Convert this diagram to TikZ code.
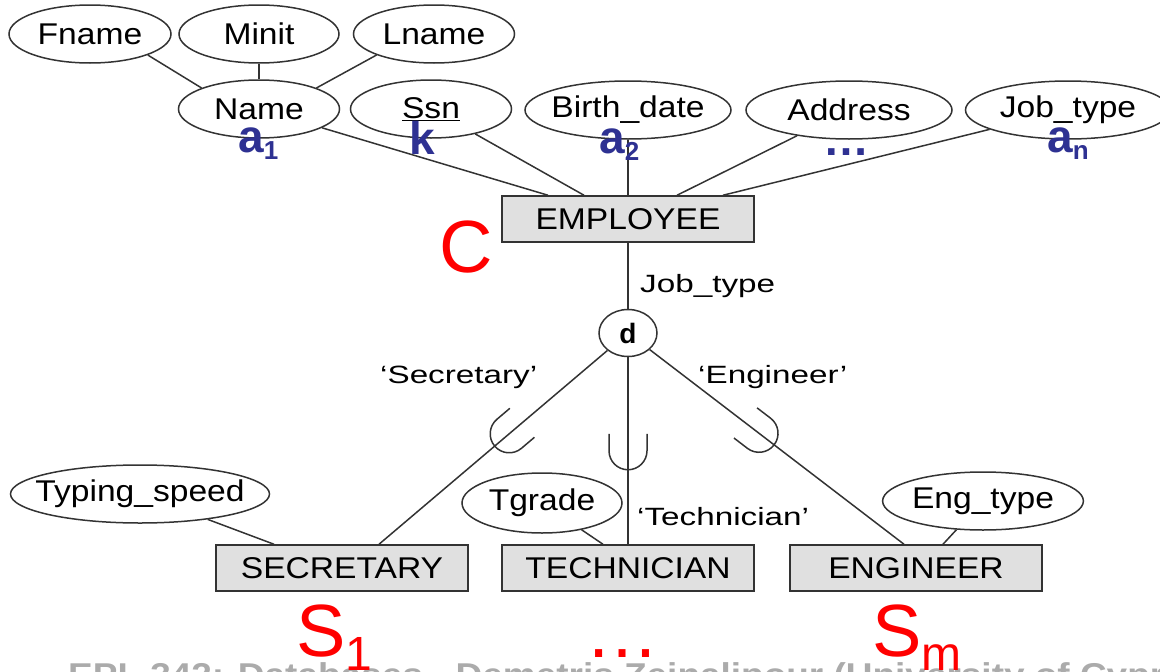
\documentclass[tikz,border=0pt]{standalone}
\usepackage{fontspec}
\setmainfont{Liberation Sans}
\newfontfamily\erfont{Liberation Sans}[FakeStretch=1.12]
\newfontfamily\rolefont{Liberation Sans}[FakeStretch=1.33]
\usetikzlibrary{shapes.geometric,positioning}
\definecolor{ergray}{HTML}{333333}
\definecolor{entfill}{HTML}{E0E0E0}
\definecolor{symblue}{HTML}{2E3192}
\definecolor{footgray}{HTML}{ABABAB}
\newcommand{\attrsub}[2]{#1\raisebox{-7pt}{\fontsize{26}{26}\selectfont #2}}
\newcommand{\setsub}[2]{#1\raisebox{-14pt}{\fontsize{48}{48}\selectfont #2}}
\tikzset{
  er line/.style={draw=ergray, line width=1.5pt},
  attrib/.style={ellipse, er line, inner sep=0pt, minimum height=58pt, font=\erfont\fontsize{30}{30}\selectfont},
  ent/.style={rectangle, er line, fill=entfill, minimum width=252pt, minimum height=46pt, inner sep=0pt, font=\erfont\fontsize{30}{30}\selectfont},
  role/.style={inner sep=0pt, anchor=base west, font=\rolefont\fontsize{25}{25}\selectfont},
  symlbl/.style={inner sep=0pt, anchor=base west, text=symblue, font=\bfseries\fontsize{46}{46}\selectfont},
  setlbl/.style={inner sep=0pt, anchor=base west, text=red, font=\fontsize{74}{74}\selectfont},
  subsetu/.pic={\draw[er line] (-17,-19) -- (0,-19) arc[start angle=-90, end angle=90, radius=19] -- (-17,19);}
}
\begin{document}
\begin{tikzpicture}[x=1pt,y=-1pt]
\useasboundingbox (0,0) rectangle (1160,672);
\clip (0,0) rectangle (1160,672);
\node[inner sep=0pt, anchor=base west, text=footgray, font=\erfont\bfseries\fontsize{33}{33}\selectfont] (footer) at (68,686) {EPL 342: Databases - Demetris Zeinalipour (University of Cyprus)};
% superclass and its attributes
\node[attrib, minimum width=162pt] (fname) at (90,34) {Fname};
\node[attrib, minimum width=160pt] (minit) at (259,34) {Minit};
\node[attrib, minimum width=161pt] (lname) at (434,34) {Lname};
\node[attrib, minimum width=161pt] (name) at (259,109) {Name};
\node[attrib, minimum width=161pt] (ssn) at (431,109) {\underline{Ssn}};
\node[attrib, minimum width=206pt, inner xsep=-25pt] (bdate) at (628,110) {Birth\_date};
\node[attrib, minimum width=206pt] (address) at (849,110) {Address};
\node[attrib, minimum width=205pt] (jobtype) at (1068,110) {Job\_type};
\node[ent] (emp) at (628,219) {EMPLOYEE};
\draw[er line] (fname.south east) -- (name.north west);
\draw[er line] (minit) -- (name);
\draw[er line] (lname.south west) -- (name.north east);
\draw[er line] (name) -- ([xshift=-80pt]emp.north);
\draw[er line] (ssn) -- ([xshift=-44pt]emp.north);
\draw[er line] (bdate) -- (emp);
\draw[er line] (address) -- ([xshift=49pt]emp.north);
\draw[er line] (jobtype) -- ([xshift=95pt]emp.north);
% specialization
\node[ellipse, er line, minimum width=58pt, minimum height=47pt, inner sep=0pt, font=\bfseries\fontsize{28}{28}\selectfont] (disj) at (628,333) {d};
\draw[er line] (emp) -- (disj);
\node[role] (jtrole) at (640,292) {Job\_type};
\node[ent] (sec) at (342,568) {SECRETARY};
\node[ent] (tech) at (628,568) {TECHNICIAN};
\node[ent] (eng) at (916,568) {ENGINEER};
\draw[er line] (disj) -- pic[pos=0.43, sloped, allow upside down]{subsetu} ([xshift=37pt]sec.north);
\draw[er line] (disj) -- pic[pos=0.5, sloped, allow upside down]{subsetu} (tech);
\draw[er line] (disj) -- pic[pos=0.43, sloped, allow upside down]{subsetu} ([xshift=-12pt]eng.north);
\node[role] (secrole) at (380,383) {‘Secretary’};
\node[role] (engrole) at (698,383) {‘Engineer’};
\node[role] (techrole) at (637,525) {‘Technician’};
% local attributes
\node[attrib, minimum width=259pt, inner xsep=-25pt] (tspeed) at (140,494) {Typing\_speed};
\node[attrib, minimum width=160pt, minimum height=60pt] (tgrade) at (542,503) {Tgrade};
\node[attrib, minimum width=200pt] (engtype) at (983,501) {Eng\_type};
\draw[er line] (tspeed) -- ([xshift=-68pt]sec.north);
\draw[er line] (tgrade) -- ([xshift=-25pt]tech.north);
\draw[er line] (engtype) -- ([xshift=27pt]eng.north);
% notation
\node[symlbl] (lbla1) at (238,152) {\attrsub{a}{1}};
\node[symlbl] (lblk) at (409,154) {k};
\node[symlbl] (lbla2) at (599,153) {\attrsub{a}{2}};
\node[symlbl] (lbldots) at (823,155) {…};
\node[symlbl] (lblan) at (1047,152) {\attrsub{a}{n}};
\node[setlbl] (lblc) at (439,272) {C};
\node[setlbl] (lbls1) at (296,656) {\setsub{S}{1}};
\node[setlbl] (lbldots2) at (585,657) {…};
\node[setlbl] (lblsm) at (872,656) {\setsub{S}{m}};
\end{tikzpicture}
\end{document}
